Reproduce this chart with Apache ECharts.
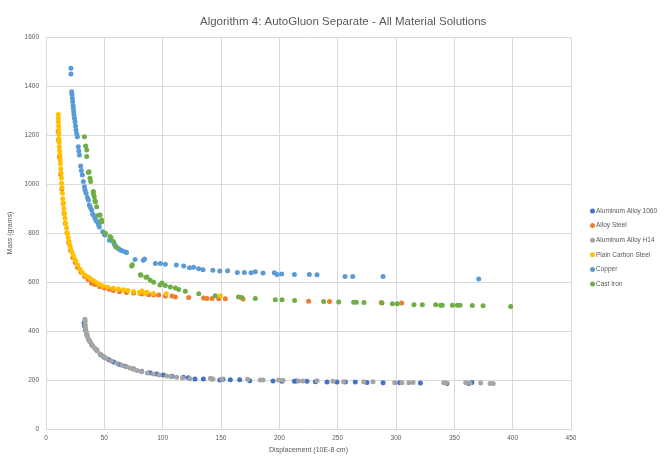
<!DOCTYPE html>
<html>
<head>
<meta charset="utf-8">
<script src="https://cdn.jsdelivr.net/npm/echarts@6/dist/echarts.min.js"></script>
<style>html,body{margin:0;padding:0;background:#fff}#c{width:664px;height:456px}</style>
</head>
<body>
<div id="c"></div>
<script>
const titleText = "Algorithm 4: AutoGluon Separate - All Material Solutions";
const xAxisName = "Displacement (10E-8 cm)";
const yAxisName = "Mass (grams)";
const seriesNames = ["Aluminum Alloy 1060","Alloy Steel","Aluminum Alloy H14","Plain Carbon Steel","Copper","Cast Iron"];
const seriesColors = ["#4472C4","#ED7D31","#A5A5A5","#FFC000","#5B9BD5","#70AD47"];

const aluminum1060 = [[32.6,434],[33,420],[33.8,405],[35,385],[37,362],[39.5,342],[43.4,322],[47,303],[50,293],[54,283],[58,273],[63,263],[68,256],[75,246],[82,236],[89.1,230],[95,224],[100.6,220],[108,215],[117.7,211],[122,209],[127.7,204],[134.9,204],[149,200],[151.7,203],[158,201],[166,201],[174.6,197],[194.6,196],[202.3,195],[212.9,195],[214.5,196],[223.7,195],[230.9,193],[240.9,192],[249.4,192],[256.6,192],[265.1,192],[275.1,190],[288.9,189],[303.1,189],[320.9,188],[343.7,186],[362.3,186],[365.1,190]];

const alloySteel = [[10.4,1215],[10.8,1180],[11.5,1110],[12.5,1040],[13.5,980],[14.7,920],[15.5,880],[16.5,840],[18,800],[19.5,760],[21,730],[23,700],[25,680],[27,660],[30,640],[33,622],[36,610],[39,595],[42,590],[46,581],[50,576],[54,570],[57.7,565],[63,560],[69,557],[75,555],[80.6,554],[82.3,551],[88,548],[92.3,547],[96.6,547],[102.3,543],[108,543],[110.9,539],[122.3,537],[135.1,535],[138,533],[142.3,533],[148,532],[153.7,532],[168.9,531],[225.1,521],[243,520],[287.4,516],[304.9,514]];

const aluminumH14 = [[33.4,448],[33.5,440],[33.7,424],[34,412],[34.3,400],[34.9,390],[35.5,378],[36.5,366],[37.7,356],[39,346],[40.5,337],[42,329],[44,318],[46.3,306],[49,297],[52,288],[56,278],[60.6,268],[65,260],[69.1,254],[72,249],[74.9,244],[78,239],[82,234],[87,229],[92,224],[97,220],[103.4,216],[107,214],[112,211],[117,208],[123.4,205],[140.9,207],[142,203],[143.1,204],[150.9,203],[172.9,203],[183.7,200],[186,200],[199.4,200],[203.1,199],[216.6,196],[220.3,196],[232.3,197],[246,195],[255.1,193],[272.3,193],[280.3,193],[298.9,189],[305.1,189],[310.9,189],[314.6,190],[340.9,189],[343.1,188],[359.7,190],[363.4,188],[372.6,188],[380.6,186],[383.4,186]];

const plainCarbonSteel = [[10.6,1284],[10.6,1268],[10.6,1254],[10.8,1237],[10.9,1220],[11,1203],[11.1,1186],[11.3,1170],[11.4,1152],[11.7,1135],[12,1118],[12.1,1100],[12.3,1084],[12.6,1062],[12.9,1044],[13.2,1024],[13.4,1003],[13.7,985],[14,962],[14.4,940],[14.9,921],[15.3,900],[15.7,880],[16.3,860],[16.9,839],[17.6,820],[18.3,799],[19,782],[19.7,765],[20.4,750],[21.1,737],[22.2,722],[23.4,708],[24.5,695],[25.7,685],[27.3,668],[29.1,652],[31,640],[33.4,628],[35.5,621],[37.7,615],[40.5,606],[43.4,597],[46,590],[49.1,584],[53,579],[57.7,574],[62,571],[66.3,568],[70,565],[74.9,561],[80,558],[82.3,563],[84.9,554],[86.6,558],[92,553],[103,552],[149.4,544]];

const copper = [[21.4,1472],[21.4,1449],[22,1377],[22.3,1365],[22.6,1350],[22.9,1336],[23.2,1320],[23.4,1309],[23.7,1295],[24,1282],[24.4,1268],[24.9,1254],[25.3,1237],[25.7,1220],[26.3,1205],[26.9,1193],[27.7,1152],[28.1,1135],[28.6,1118],[29.7,1073],[30.3,1055],[31.1,1037],[32,1010],[32.9,989],[33.5,975],[34.3,962],[35.5,945],[36.3,935],[37.1,914],[38,905],[39.1,894],[40,878],[40.6,873],[42,860],[43,850],[44,846],[45.1,833],[45.7,824],[48.6,805],[50,795],[50.6,792],[54.3,770],[55.4,771],[58.3,758],[59.1,750],[62,737],[63.4,732],[65,728],[67.7,723],[69,720],[76.3,692],[83.4,689],[84.5,694],[93.7,676],[98,676],[102.3,672],[111.7,669],[118,665],[123,658],[126.6,660],[130.9,654],[134.6,650],[143,648],[149,645],[155.7,646],[164,639],[170,639],[175.7,638],[179.4,642],[186,637],[195.7,638],[198,631],[202,633],[212.9,631],[225.7,631],[232.3,630],[256.3,622],[262.9,622],[288.9,622],[370.9,612]];

const castIron = [[32.9,1193],[34,1155],[34.9,1139],[34.9,1112],[36.3,1047],[36.9,1050],[37.7,1023],[38.3,1010],[40.6,969],[40.6,959],[41.4,948],[42,932],[42.3,928],[43.4,907],[44.9,872],[46.3,873],[47.7,853],[47.7,845],[50.9,799],[54.9,786],[55.7,782],[57.7,765],[60,744],[60.6,741],[73.4,665],[74,670],[80.9,630],[81.4,628],[85.7,619],[86.6,620],[89.4,607],[92.3,599],[97.7,588],[99.4,596],[102.3,586],[106.6,580],[110.9,576],[113.7,569],[119.4,562],[130.9,552],[145.1,544],[165,539],[167.7,537],[179.4,533],[196.6,528],[202.3,528],[213.1,525],[238,520],[250.9,518],[263.7,517],[266,517],[272.6,516],[288,514],[296.9,511],[301.1,511],[315.4,507],[322.6,507],[334,507],[338.3,505],[339.7,505],[348.3,505],[352.6,505],[354.9,505],[365.4,504],[374.6,503],[398.3,500]];

const allData = [aluminum1060, alloySteel, aluminumH14, plainCarbonSteel, copper, castIron];

const FONT = "'Liberation Sans',sans-serif";
const chart = echarts.init(document.getElementById('c'), null, {renderer:'canvas'});
chart.setOption({
  animation: false,
  backgroundColor: '#ffffff',
  title: {
    text: titleText, left: 195, top: 11,
    textStyle: {fontFamily: FONT, fontSize: 11.5, fontWeight: 'normal', color: '#595959'}
  },
  legend: {
    orient: 'vertical', left: 585, top: 202, itemWidth: 5, itemHeight: 5, itemGap: 6.6,
    icon: 'circle',
    textStyle: {fontFamily: FONT, fontSize: 6.5, color: '#595959', padding: [0,0,0,-4], lineHeight: 8},
    data: seriesNames
  },
  grid: {left: 46, right: 93, top: 37, bottom: 27, outerBoundsMode: 'none', containLabel: false},
  xAxis: {
    type: 'value', min: 0, max: 450, interval: 50,
    name: xAxisName, nameLocation: 'middle', nameGap: 13,
    nameTextStyle: {fontFamily: FONT, fontSize: 7, color: '#595959'},
    axisLine: {show: true, lineStyle: {color: '#d9d9d9'}},
    axisTick: {show: false},
    axisLabel: {fontFamily: FONT, fontSize: 6.5, color: '#595959', margin: 6},
    splitLine: {show: true, lineStyle: {color: '#d9d9d9', width: 1}}
  },
  yAxis: {
    type: 'value', min: 0, max: 1600, interval: 200,
    name: yAxisName, nameLocation: 'middle', nameGap: 30, nameRotate: 90,
    nameTextStyle: {fontFamily: FONT, fontSize: 7, color: '#595959'},
    axisLine: {show: true, lineStyle: {color: '#d9d9d9'}},
    axisTick: {show: false},
    axisLabel: {fontFamily: FONT, fontSize: 6.5, color: '#595959', margin: 7, formatter: v => String(v)},
    splitLine: {show: true, lineStyle: {color: '#d9d9d9', width: 1}}
  },
  series: seriesNames.map((n, i) => ({
    name: n, type: 'scatter', data: allData[i], symbol: 'circle', symbolSize: 5,
    itemStyle: {color: seriesColors[i], opacity: 1},
    emphasis: {disabled: true}
  }))
});
</script>
</body>
</html>
